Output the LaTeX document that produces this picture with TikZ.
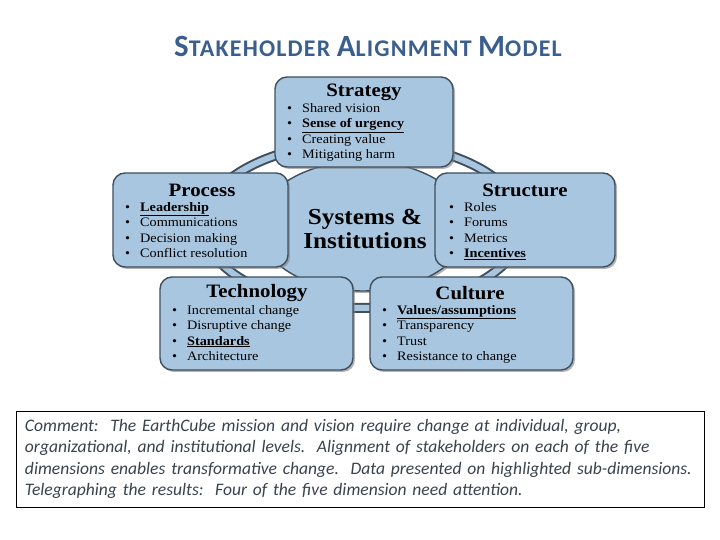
\documentclass[tikz,border=0pt]{standalone}
\usepackage{fontspec}
\setmainfont[FakeStretch=1.1]{Liberation Serif}
\newfontfamily\calib{Carlito}
\newfontfamily\calibtitle[LetterSpace=5]{Carlito}
\usetikzlibrary{shadows,shapes.geometric}

\definecolor{boxblue}{HTML}{A8C6DF}
\definecolor{edgeblue}{HTML}{3F4F5E}
\definecolor{titleblue}{HTML}{3A5F8E}
\definecolor{textgray}{HTML}{3A424C}

\newcommand{\itm}{\llap{\textbullet\hspace{10bp}}}
\newcommand{\hit}[1]{\underline{\textbf{#1}}}
\newcommand{\titlebig}{\fontsize{31}{33}\selectfont}
\newcommand{\titlesmall}{\fontsize{24}{26}\selectfont}

\tikzset{
	dimbox/.style={rectangle, rounded corners=12bp, draw=edgeblue, line width=1.4pt, fill=boxblue,
		drop shadow={opacity=0.6, shadow xshift=2pt, shadow yshift=-2pt}},
	dimhead/.style={font=\fontsize{19}{22}\selectfont\bfseries, inner sep=0pt},
	dimlist/.style={anchor=north west, align=left, inner sep=0pt, font=\fontsize{13}{15.5}\selectfont}
}

\begin{document}
\begin{tikzpicture}[x=1bp, y=-1bp]
	\useasboundingbox (0,0) rectangle (720,540);
	% title
	\node[anchor=base, text=titleblue, font=\calibtitle\bfseries, inner sep=0pt] (title) at (368,57)
		{\titlebig S\titlesmall TAKEHOLDER \titlebig A\titlesmall LIGNMENT \titlebig M\titlesmall ODEL};
	% ring and centre
	\draw[edgeblue, line width=10bp] (363,225) ellipse [x radius=160, y radius=83];
	\draw[boxblue, line width=6bp] (363,225) ellipse [x radius=160, y radius=83];
	\node[ellipse, draw=edgeblue, line width=1.4pt, fill=boxblue, minimum width=210bp, minimum height=130bp,
		drop shadow={opacity=0.6, shadow xshift=2pt, shadow yshift=-2pt}] (centre) at (363,226) {};
	\node[font=\fontsize{23}{24}\selectfont\bfseries, align=center] (centretext) at (365,229) {Systems \&\\Institutions};
	% the five dimensions
	\node[dimbox, minimum width=178bp, minimum height=90bp] (strategy) at (364,122) {};
	\node[dimhead] (strategyhead) at (364,92) {Strategy};
	\node[dimlist] (strategylist) at (302,103) {\itm Shared vision\\ \itm\hit{Sense of urgency}\\ \itm Creating value\\ \itm Mitigating harm};

	\node[dimbox, minimum width=175bp, minimum height=94bp] (process) at (200.5,220) {};
	\node[dimhead] (processhead) at (202,190) {Process};
	\node[dimlist] (processlist) at (140,202) {\itm\hit{Leadership}\\ \itm Communications\\ \itm Decision making\\ \itm Conflict resolution};

	\node[dimbox, minimum width=180bp, minimum height=94bp] (structure) at (525,220) {};
	\node[dimhead] (structurehead) at (525,190) {Structure};
	\node[dimlist] (structurelist) at (464,202) {\itm Roles\\ \itm Forums\\ \itm Metrics\\ \itm\hit{Incentives}};

	\node[dimbox, minimum width=193bp, minimum height=93bp] (technology) at (256.5,323.5) {};
	\node[dimhead] (technologyhead) at (257,293) {Technology};
	\node[dimlist] (technologylist) at (187,305) {\itm Incremental change\\ \itm Disruptive change\\ \itm\hit{Standards}\\ \itm Architecture};

	\node[dimbox, minimum width=203bp, minimum height=93bp] (culture) at (471.5,323.5) {};
	\node[dimhead] (culturehead) at (470,293) {Culture};
	\node[dimlist] (culturelist) at (397,305) {\itm\hit{Values/assumptions}\\ \itm Transparency\\ \itm Trust\\ \itm Resistance to change};
	% comment
	\node[draw=black, line width=0.9pt, minimum width=688bp, minimum height=96bp, text width=670bp, align=left,
		text=textgray, font=\calib\itshape\fontsize{17.6}{21.3}\selectfont] (comment) at (360,459)
		{Comment:\ \ The EarthCube mission and vision require change at individual, group,\\
		organizational, and institutional levels.\ \ Alignment of stakeholders on each of the five\\
		dimensions enables transformative change.\ \ Data presented on highlighted sub-dimensions.\\
		Telegraphing the results:\ \ Four of the five dimension need attention.};
\end{tikzpicture}
\end{document}
